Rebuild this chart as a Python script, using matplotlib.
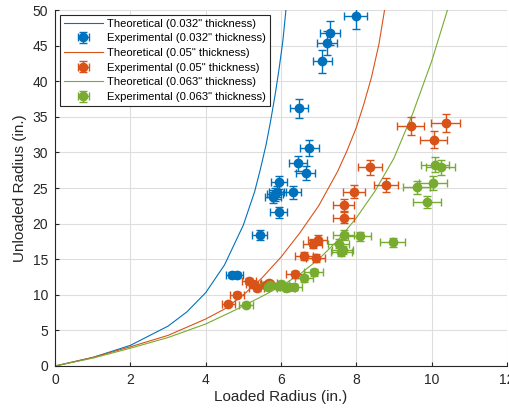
import matplotlib
matplotlib.use('Agg')
import matplotlib.pyplot as plt

# theoretical curves
th_032_x = [0, 1, 2, 3, 3.5, 4, 4.5, 5, 5.3, 5.45, 5.6, 5.72, 5.85, 5.95, 6.05, 6.13]
th_032_y = [0, 1.2, 2.9, 5.6, 7.6, 10.3, 14.2, 19.8, 24.5, 27.6, 31.0, 34.3, 38.3, 41.8, 45.7, 50]
th_05_x = [0, 1, 2, 3, 4, 4.5, 5, 5.5, 6, 6.5, 7, 7.5, 7.75, 8, 8.2, 8.4, 8.6, 8.75]
th_05_y = [0, 1.2, 2.7, 4.3, 6.6, 8.0, 10.0, 12.4, 15.3, 18.7, 22.5, 27.3, 30.2, 33.5, 36.8, 40.5, 45.2, 50]
th_063_x = [0, 1, 2, 3, 4, 4.8, 5.5, 6, 6.5, 7, 7.5, 8, 8.5, 9, 9.5, 10, 10.42]
th_063_y = [0, 1.1, 2.5, 4.0, 5.9, 7.9, 9.8, 11.2, 12.9, 15.0, 17.6, 20.8, 24.6, 29.2, 35.5, 42.8, 50]

# experimental points
ex_032_x = [4.7, 4.82, 5.44, 5.78, 5.84, 5.9, 5.94, 5.95, 6.31, 6.46, 6.66, 6.75, 6.48, 7.1, 7.22, 7.3, 7.98]
ex_032_y = [12.8, 12.8, 18.4, 23.8, 24.1, 24.4, 21.6, 25.8, 24.4, 28.5, 27.1, 30.6, 36.2, 42.8, 45.4, 46.8, 49.2]
ex_032_xerr = [0.17, 0.18, 0.2, 0.21, 0.22, 0.22, 0.22, 0.22, 0.23, 0.24, 0.25, 0.25, 0.24, 0.26, 0.27, 0.27, 0.3]
ex_032_yerr = [0.47, 0.47, 0.68, 0.88, 0.89, 0.9, 0.8, 0.95, 0.9, 1.05, 1.0, 1.13, 1.34, 1.58, 1.68, 1.73, 1.82]

ex_05_x = [4.6, 4.83, 5.15, 5.25, 5.36, 5.6, 5.68, 6.37, 6.61, 6.92, 6.84, 6.97, 7.66, 7.66, 7.93, 8.36, 8.78, 9.44, 10.05, 10.37]
ex_05_y = [8.7, 10.0, 11.9, 11.5, 10.9, 11.4, 11.6, 12.9, 15.4, 15.2, 17.2, 17.7, 20.8, 22.6, 24.5, 27.9, 25.4, 33.7, 31.8, 34.1]
ex_05_xerr = [0.17, 0.18, 0.19, 0.19, 0.2, 0.21, 0.21, 0.24, 0.24, 0.26, 0.25, 0.26, 0.28, 0.28, 0.29, 0.31, 0.32, 0.35, 0.37, 0.38]
ex_05_yerr = [0.32, 0.37, 0.44, 0.43, 0.4, 0.42, 0.43, 0.48, 0.57, 0.56, 0.64, 0.65, 0.77, 0.84, 0.91, 1.03, 0.94, 1.25, 1.18, 1.26]

ex_063_x = [5.07, 5.65, 5.7, 5.94, 6.0, 6.13, 6.2, 6.34, 6.6, 6.87, 7.53, 7.6, 7.64, 7.66, 8.09, 8.97, 9.6, 9.87, 10.03, 10.1, 10.24]
ex_063_y = [8.6, 11.1, 11.4, 11.2, 11.5, 11.0, 11.1, 11.1, 12.3, 13.2, 17.2, 16.0, 16.3, 18.4, 18.2, 17.4, 25.1, 23.1, 25.7, 28.3, 27.9]
ex_063_xerr = [0.19, 0.21, 0.21, 0.22, 0.22, 0.23, 0.23, 0.23, 0.24, 0.25, 0.28, 0.28, 0.28, 0.28, 0.3, 0.33, 0.36, 0.37, 0.37, 0.37, 0.38]
ex_063_yerr = [0.32, 0.41, 0.42, 0.41, 0.43, 0.41, 0.41, 0.41, 0.46, 0.49, 0.64, 0.59, 0.6, 0.68, 0.67, 0.64, 0.93, 0.85, 0.95, 1.05, 1.03]

cols = ['#0072BD', '#D95319', '#77AC30']

plt.rcParams['font.family'] = ['Liberation Sans', 'DejaVu Sans']

fig = plt.figure(figsize=(5.10, 4.11), dpi=100)
ax = fig.add_axes([0.108, 0.1095, 0.886, 0.866])

series = [
    (th_032_x, th_032_y, ex_032_x, ex_032_y, ex_032_xerr, ex_032_yerr, '0.032"'),
    (th_05_x, th_05_y, ex_05_x, ex_05_y, ex_05_xerr, ex_05_yerr, '0.05"'),
    (th_063_x, th_063_y, ex_063_x, ex_063_y, ex_063_xerr, ex_063_yerr, '0.063"'),
]
handles = []
for i, (tx, ty, ex, ey, exe, eye, lab) in enumerate(series):
    l, = ax.plot(tx, ty, color=cols[i], lw=0.8, label='Theoretical (%s thickness)' % lab, zorder=2)
    e = ax.errorbar(ex, ey, xerr=exe, yerr=eye, fmt='o', color=cols[i], ms=6,
                    elinewidth=1, capsize=3, capthick=1, label='Experimental (%s thickness)' % lab, zorder=3)
    handles += [l, e]

ax.set_xlim(0, 12)
ax.set_ylim(0, 50)
ax.set_xticks(range(0, 13, 2))
ax.set_yticks(range(0, 51, 5))
ax.grid(True, color='#dedede', lw=0.8)
ax.set_axisbelow(True)
ax.tick_params(direction='in', length=3, labelsize=10, colors='#262626', pad=5)
for s in ['top', 'right']:
    ax.spines[s].set_visible(False)
for s in ['left', 'bottom']:
    ax.spines[s].set_color('#262626')
ax.set_xlabel('Loaded Radius (in.)', fontsize=11, color='#262626', labelpad=2)
ax.set_ylabel('Unloaded Radius (in.)', fontsize=11, color='#262626', labelpad=4)

leg = ax.legend(handles, [h.get_label() for h in handles], loc='upper left', fontsize=8.1,
                frameon=True, fancybox=False, framealpha=1,
                edgecolor='#262626', borderpad=0.3, labelspacing=0.42,
                handlelength=3.5, handletextpad=0.4, borderaxespad=0.45)
leg.get_frame().set_linewidth(0.8)

fig.savefig('out.png', dpi=100)
